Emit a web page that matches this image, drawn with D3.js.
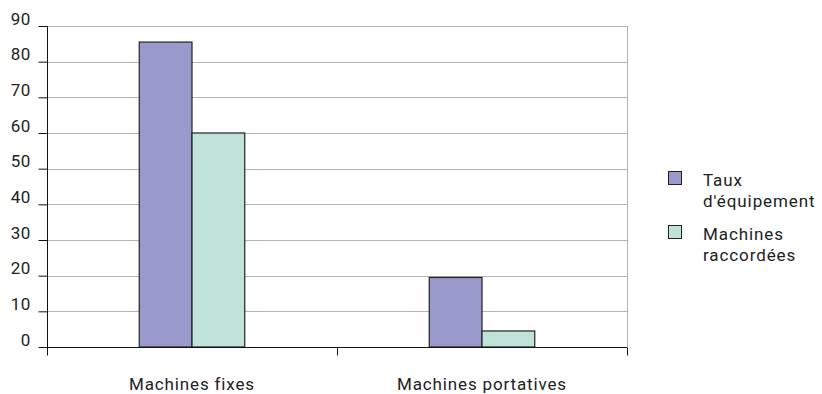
<!DOCTYPE html>
<html>
<head>
<meta charset="utf-8">
<script src="https://cdn.jsdelivr.net/npm/d3@7"></script>
<style>
  html, body { margin: 0; padding: 0; background: #fff; }
  svg text { font-family: Roboto, "Noto Sans", sans-serif; fill: #222; }
</style>
</head>
<body>
<svg id="chart" width="822" height="394"></svg>
<script>
// Categories on the x axis
const categories = ["Machines fixes", "Machines portatives"];
// Four series slots per category: the outer two carry no legend entry
const seriesKeys = ["s0", "s1", "s2", "s3"];
const seriesNames = ["", "Taux d'équipement", "Machines raccordées", ""];
const seriesColors = ["#9999cc", "#9999cc", "#bfe3d9", "#9999cc"];
// Values per series (null = no bar)
const valuesS0 = [null, null];
const valuesS1 = [85.5, 19.5];
const valuesS2 = [60, 4.5];
const valuesS3 = [null, 0];
// Y axis ticks
const yTicks = [0, 10, 20, 30, 40, 50, 60, 70, 80, 90];

const seriesValues = [valuesS0, valuesS1, valuesS2, valuesS3];

const svg = d3.select("#chart");
const plot = { left: 47, right: 627, top: 26, bottom: 347 };

const x0 = d3.scaleBand()
  .domain(categories)
  .range([plot.left, plot.right])
  .paddingInner(0.2724)
  .paddingOuter(0.1362);

const x1 = d3.scaleBand()
  .domain(seriesKeys)
  .range([0, x0.bandwidth()]);

const y = d3.scaleLinear()
  .domain([0, 90])
  .range([plot.bottom, plot.top]);

// Horizontal gridlines
svg.append("g")
  .selectAll("line")
  .data(yTicks.filter(t => t > 0))
  .join("line")
  .attr("x1", plot.left).attr("x2", plot.right)
  .attr("y1", d => Math.round(y(d)) + 0.5).attr("y2", d => Math.round(y(d)) + 0.5)
  .attr("stroke", "#b3b3b3").attr("stroke-width", 1);

// Right frame edge
svg.append("line")
  .attr("x1", plot.right + 0.5).attr("x2", plot.right + 0.5)
  .attr("y1", y(90)).attr("y2", plot.bottom)
  .attr("stroke", "#b3b3b3");

// Bars
const groups = svg.append("g")
  .selectAll("g")
  .data(categories)
  .join("g")
  .attr("transform", d => `translate(${x0(d)},0)`);

groups.selectAll("rect")
  .data((c, ci) => seriesKeys.map((k, si) => ({ key: k, si, value: seriesValues[si][ci] }))
    .filter(d => d.value !== null))
  .join("rect")
  .attr("x", d => x1(d.key))
  .attr("width", x1.bandwidth())
  .attr("y", d => y(d.value))
  .attr("height", d => y(0) - y(d.value))
  .attr("fill", d => seriesColors[d.si])
  .attr("stroke", "#222")
  .attr("stroke-width", 1.2);

// Y axis
const yAxis = d3.axisLeft(y).tickValues(yTicks).tickSize(9).tickPadding(0).tickFormat(d3.format("d"));
const gy = svg.append("g")
  .attr("transform", `translate(${plot.left + 0.5},0)`)
  .call(yAxis);
gy.select(".domain").remove();
gy.selectAll(".tick line").attr("stroke", "#111");
gy.selectAll(".tick text")
  .attr("x", -17)
  .attr("dy", "-0.1em")
  .attr("font-size", 17)
  .attr("letter-spacing", "0.3px")
  .attr("font-family", "Roboto, sans-serif")
  .attr("fill", "#222");
gy.append("line")
  .attr("x1", 0).attr("x2", 0)
  .attr("y1", plot.top).attr("y2", plot.bottom + 8)
  .attr("stroke", "#111");

// X axis
const xAxis = d3.axisBottom(x0).tickSize(0).tickPadding(0);
const gx = svg.append("g")
  .attr("transform", `translate(0,${plot.bottom + 0.5})`)
  .call(xAxis);
gx.select(".domain").attr("d", `M${plot.left},0H${plot.right}`).attr("stroke", "#111");
gx.selectAll(".tick text")
  .attr("y", 42)
  .attr("dy", 0)
  .attr("font-size", 17)
  .attr("letter-spacing", "0.85px")
  .attr("font-family", "Roboto, sans-serif")
  .attr("fill", "#222");
// Category separators
gx.append("g")
  .selectAll("line")
  .data(d3.range(categories.length + 1))
  .join("line")
  .attr("x1", i => Math.round(plot.left + i * (plot.right - plot.left) / categories.length) + 0.5)
  .attr("x2", i => Math.round(plot.left + i * (plot.right - plot.left) / categories.length) + 0.5)
  .attr("y1", 0).attr("y2", 8)
  .attr("stroke", "#111");

// Legend
const legendItems = seriesNames
  .map((name, i) => ({ name, color: seriesColors[i] }))
  .filter(d => d.name);
const legendLines = [["Taux", "d'équipement"], ["Machines", "raccordées"]];
const legend = svg.append("g").attr("transform", "translate(668,171)");
const li = legend.selectAll("g")
  .data(legendItems)
  .join("g")
  .attr("transform", (d, i) => `translate(0,${i * 54})`);
li.append("rect")
  .attr("x", 0.5).attr("y", 0.5)
  .attr("width", 13).attr("height", 13)
  .attr("fill", d => d.color)
  .attr("stroke", "#222");
li.append("text")
  .attr("font-size", 17)
  .attr("letter-spacing", "0.9px")
  .selectAll("tspan")
  .data((d, i) => legendLines[i])
  .join("tspan")
  .attr("x", 35)
  .attr("y", (d, j) => 15 + j * 21)
  .text(d => d);
</script>
</body>
</html>
